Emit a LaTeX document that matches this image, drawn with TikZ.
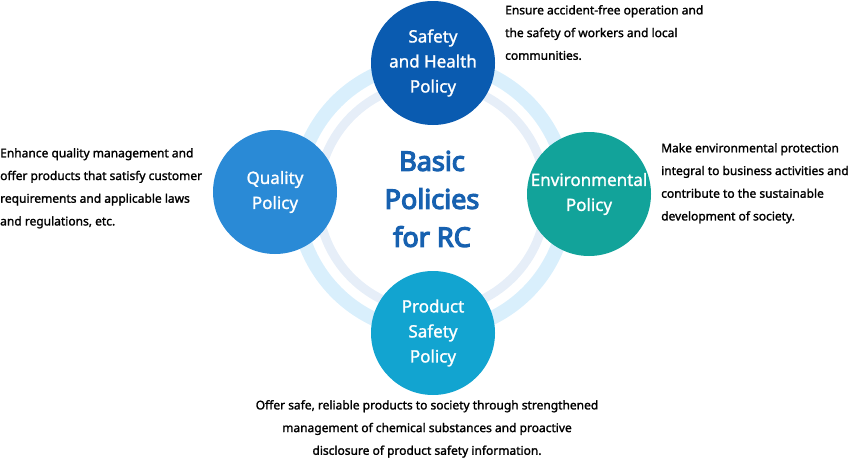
\documentclass[tikz,border=0pt]{standalone}
\usepackage{fontspec}
\setmainfont{Noto Sans}
\newfontfamily\semi{Noto Sans}[FakeBold=1.6]
\newfontfamily\med{Noto Sans}[FakeBold=1.2]
\newfontfamily\heavy{Noto Sans}[FakeBold=4.5]
\definecolor{cTop}{HTML}{0A5BB0}
\definecolor{cLeft}{HTML}{2A8AD6}
\definecolor{cRight}{HTML}{12A39A}
\definecolor{cBot}{HTML}{12A4D0}
\definecolor{cTitle}{HTML}{1761B0}
\definecolor{ringA}{HTML}{D9EFFC}
\definecolor{ringB}{HTML}{E6EEF8}
\begin{document}
\begin{tikzpicture}[x=1pt,y=-1pt,
  pol/.style={circle,minimum size=124pt,inner sep=0pt,text=white,align=center,font=\med\fontsize{17}{25}\selectfont},
  desc/.style={inner sep=0pt,font=\semi\fontsize{12}{22.7}\selectfont,text=black}]
\useasboundingbox (0,0) rectangle (851,463);
\coordinate (c) at (432,197);
\draw[ringA,line width=14pt] (c) circle[radius=135];
\draw[ringB,line width=9pt] (c) circle[radius=114];
\node[pol,fill=cTop] (top) at (433,63) {Safety\\and Health\\Policy};
\node[pol,fill=cLeft] (left) at (275,192) {Quality\\Policy};
\node[pol,fill=cRight] (right) at (589,194) {Environmental\\Policy};
\node[pol,fill=cBot] (bot) at (433,333) {Product\\Safety\\Policy};
\node[align=center,text=cTitle,font=\heavy\fontsize{27}{38}\selectfont] (title) at (432,199) {Basic\\Policies\\for RC};
\node[desc,anchor=north west,align=left] (dtop) at (505,5) {Ensure accident-free operation and\\the safety of workers and local\\communities.};
\node[desc,anchor=north west,align=left] (dleft) at (0,148) {Enhance quality management and\\offer products that satisfy customer\\requirements and applicable laws\\and regulations, etc.};
\node[desc,anchor=north west,align=left] (dright) at (661,143) {Make environmental protection\\integral to business activities and\\contribute to the sustainable\\development of society.};
\node[desc,anchor=north,align=center] (dbot) at (427,400) {Offer safe, reliable products to society through strengthened\\management of chemical substances and proactive\\disclosure of product safety information.};
\end{tikzpicture}
\end{document}
